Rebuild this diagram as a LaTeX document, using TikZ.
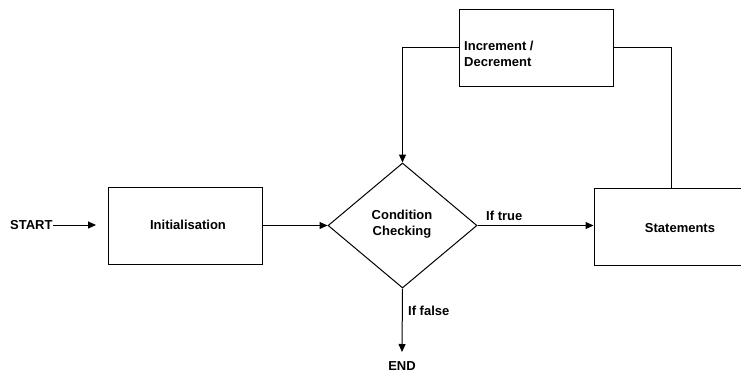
\documentclass[tikz,border=0pt]{standalone}
\usepackage{fontspec}
\setmainfont{Liberation Sans}
\usetikzlibrary{shapes.geometric,arrows.meta}
\begin{document}
\begin{tikzpicture}[x=1pt,y=-1pt,
  every node/.style={font=\bfseries\fontsize{13}{16}\selectfont},
  box/.style={draw,line width=1pt,minimum width=154pt,minimum height=77pt,inner sep=0pt},
  dec/.style={draw,diamond,line width=1pt,minimum width=149pt,minimum height=125pt,inner sep=0pt,align=center},
  conn/.style={line width=1pt},
  arr/.style={conn,-{Triangle[length=8pt,width=7pt]}},
  lbl/.style={inner sep=0pt}]
\useasboundingbox (0,0) rectangle (741,373);
\fill[white] (0,0) rectangle (741,373);
\node[box] (inc) at (536.5,47.5) {};
\node[lbl,anchor=west,align=left] (inctext) at (464,54) {Increment /\\Decrement};
\node[box] (init) at (185,225.5) {};
\node[lbl] (inittext) at (188,225) {Initialisation};
\node[box] (stat) at (671,226.5) {};
\node[lbl] (stattext) at (680,228) {Statements};
\node[dec] (cond) at (402.5,225.5) {};
\node[lbl,align=center] (condtext) at (402,224) {Condition\\Checking};
\node[lbl,anchor=west] (start) at (10,225) {START};
\node[lbl] (end) at (402,366) {END};
\coordinate (endtip) at (402,352);
\coordinate (startend) at (96,225);
\node[lbl,anchor=west] (iftrue) at (486,216) {If true};
\node[lbl,anchor=west] (iffalse) at (408,311) {If false};
\draw[arr] (start.east) -- (startend);
\draw[arr] (init.east) -- (cond.west);
\draw[arr] (cond.east) -- (cond.east -| stat.west);
\draw[arr] (cond.south) -- (endtip);
\draw[arr] (inc.west) -| (cond.north);
\draw[conn] (inc.east) -| (stat.north);
\end{tikzpicture}
\end{document}
